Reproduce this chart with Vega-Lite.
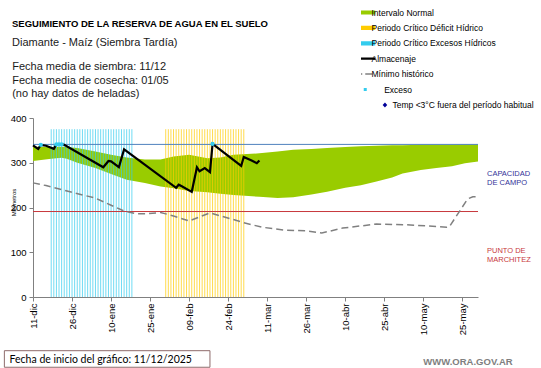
{
  "$schema": "https://vega.github.io/schema/vega-lite/v6.json",
  "width": 445,
  "height": 179,
  "autosize": {"type": "none"},
  "padding": {"left": 33, "top": 118, "right": 63, "bottom": 71},
  "background": "white",
  "config": {
    "view": {"stroke": null},
    "font": "Liberation Sans",
    "axis": {"labelFont": "Liberation Sans", "titleFont": "Liberation Sans"}
  },
  "title": {
    "text": "SEGUIMIENTO DE LA RESERVA DE AGUA  EN EL SUELO",
    "subtitle": "Diamante - Maíz  (Siembra Tardía)",
    "anchor": "start",
    "frame": "group",
    "orient": "top",
    "font": "Liberation Sans",
    "fontSize": 9.5,
    "fontWeight": "bold",
    "color": "#000000",
    "subtitleFont": "Liberation Sans",
    "subtitleFontSize": 11,
    "subtitleColor": "#1a1a1a",
    "subtitleLineHeight": 13,
    "subtitlePadding": 8,
    "offset": 14,
    "dx": -21,
    "dy": 54
  },
  "datasets": {
    "banda": [
      {"fecha": "2025-12-11", "superior": 336, "inferior": 304},
      {"fecha": "2025-12-18", "superior": 335, "inferior": 309},
      {"fecha": "2025-12-22", "superior": 336, "inferior": 311},
      {"fecha": "2025-12-24", "superior": 335, "inferior": 309},
      {"fecha": "2025-12-28", "superior": 333, "inferior": 300},
      {"fecha": "2026-01-04", "superior": 325, "inferior": 288},
      {"fecha": "2026-01-10", "superior": 318, "inferior": 275},
      {"fecha": "2026-01-16", "superior": 312, "inferior": 262},
      {"fecha": "2026-01-23", "superior": 307, "inferior": 255},
      {"fecha": "2026-01-29", "superior": 307, "inferior": 247},
      {"fecha": "2026-02-03", "superior": 314, "inferior": 243},
      {"fecha": "2026-02-09", "superior": 318, "inferior": 237},
      {"fecha": "2026-02-16", "superior": 310, "inferior": 234},
      {"fecha": "2026-02-21", "superior": 312, "inferior": 231},
      {"fecha": "2026-02-26", "superior": 318, "inferior": 228},
      {"fecha": "2026-03-08", "superior": 321, "inferior": 224},
      {"fecha": "2026-03-15", "superior": 325, "inferior": 221},
      {"fecha": "2026-03-21", "superior": 329, "inferior": 223},
      {"fecha": "2026-03-28", "superior": 331, "inferior": 229},
      {"fecha": "2026-04-03", "superior": 333, "inferior": 235},
      {"fecha": "2026-04-10", "superior": 335, "inferior": 244},
      {"fecha": "2026-04-16", "superior": 337, "inferior": 250},
      {"fecha": "2026-04-22", "superior": 338, "inferior": 258},
      {"fecha": "2026-04-28", "superior": 339, "inferior": 267},
      {"fecha": "2026-05-02", "superior": 339, "inferior": 276},
      {"fecha": "2026-05-09", "superior": 340, "inferior": 284},
      {"fecha": "2026-05-15", "superior": 340, "inferior": 288},
      {"fecha": "2026-05-21", "superior": 340, "inferior": 292},
      {"fecha": "2026-05-26", "superior": 341, "inferior": 299},
      {"fecha": "2026-05-31", "superior": 341, "inferior": 303}
    ],
    "periodos": [
      {"fecha": "2025-12-18", "periodo": "Periodo Crítico Excesos Hídricos"},
      {"fecha": "2025-12-19", "periodo": "Periodo Crítico Excesos Hídricos"},
      {"fecha": "2025-12-20", "periodo": "Periodo Crítico Excesos Hídricos"},
      {"fecha": "2025-12-21", "periodo": "Periodo Crítico Excesos Hídricos"},
      {"fecha": "2025-12-22", "periodo": "Periodo Crítico Excesos Hídricos"},
      {"fecha": "2025-12-23", "periodo": "Periodo Crítico Excesos Hídricos"},
      {"fecha": "2025-12-24", "periodo": "Periodo Crítico Excesos Hídricos"},
      {"fecha": "2025-12-25", "periodo": "Periodo Crítico Excesos Hídricos"},
      {"fecha": "2025-12-26", "periodo": "Periodo Crítico Excesos Hídricos"},
      {"fecha": "2025-12-27", "periodo": "Periodo Crítico Excesos Hídricos"},
      {"fecha": "2025-12-28", "periodo": "Periodo Crítico Excesos Hídricos"},
      {"fecha": "2025-12-29", "periodo": "Periodo Crítico Excesos Hídricos"},
      {"fecha": "2025-12-30", "periodo": "Periodo Crítico Excesos Hídricos"},
      {"fecha": "2025-12-31", "periodo": "Periodo Crítico Excesos Hídricos"},
      {"fecha": "2026-01-01", "periodo": "Periodo Crítico Excesos Hídricos"},
      {"fecha": "2026-01-02", "periodo": "Periodo Crítico Excesos Hídricos"},
      {"fecha": "2026-01-03", "periodo": "Periodo Crítico Excesos Hídricos"},
      {"fecha": "2026-01-04", "periodo": "Periodo Crítico Excesos Hídricos"},
      {"fecha": "2026-01-05", "periodo": "Periodo Crítico Excesos Hídricos"},
      {"fecha": "2026-01-06", "periodo": "Periodo Crítico Excesos Hídricos"},
      {"fecha": "2026-01-07", "periodo": "Periodo Crítico Excesos Hídricos"},
      {"fecha": "2026-01-08", "periodo": "Periodo Crítico Excesos Hídricos"},
      {"fecha": "2026-01-09", "periodo": "Periodo Crítico Excesos Hídricos"},
      {"fecha": "2026-01-10", "periodo": "Periodo Crítico Excesos Hídricos"},
      {"fecha": "2026-01-11", "periodo": "Periodo Crítico Excesos Hídricos"},
      {"fecha": "2026-01-12", "periodo": "Periodo Crítico Excesos Hídricos"},
      {"fecha": "2026-01-13", "periodo": "Periodo Crítico Excesos Hídricos"},
      {"fecha": "2026-01-14", "periodo": "Periodo Crítico Excesos Hídricos"},
      {"fecha": "2026-01-15", "periodo": "Periodo Crítico Excesos Hídricos"},
      {"fecha": "2026-01-16", "periodo": "Periodo Crítico Excesos Hídricos"},
      {"fecha": "2026-01-17", "periodo": "Periodo Crítico Excesos Hídricos"},
      {"fecha": "2026-01-18", "periodo": "Periodo Crítico Excesos Hídricos"},
      {"fecha": "2026-01-31", "periodo": "Periodo Crítico Déficit Hídrico"},
      {"fecha": "2026-02-01", "periodo": "Periodo Crítico Déficit Hídrico"},
      {"fecha": "2026-02-02", "periodo": "Periodo Crítico Déficit Hídrico"},
      {"fecha": "2026-02-03", "periodo": "Periodo Crítico Déficit Hídrico"},
      {"fecha": "2026-02-04", "periodo": "Periodo Crítico Déficit Hídrico"},
      {"fecha": "2026-02-05", "periodo": "Periodo Crítico Déficit Hídrico"},
      {"fecha": "2026-02-06", "periodo": "Periodo Crítico Déficit Hídrico"},
      {"fecha": "2026-02-07", "periodo": "Periodo Crítico Déficit Hídrico"},
      {"fecha": "2026-02-08", "periodo": "Periodo Crítico Déficit Hídrico"},
      {"fecha": "2026-02-09", "periodo": "Periodo Crítico Déficit Hídrico"},
      {"fecha": "2026-02-10", "periodo": "Periodo Crítico Déficit Hídrico"},
      {"fecha": "2026-02-11", "periodo": "Periodo Crítico Déficit Hídrico"},
      {"fecha": "2026-02-12", "periodo": "Periodo Crítico Déficit Hídrico"},
      {"fecha": "2026-02-13", "periodo": "Periodo Crítico Déficit Hídrico"},
      {"fecha": "2026-02-14", "periodo": "Periodo Crítico Déficit Hídrico"},
      {"fecha": "2026-02-15", "periodo": "Periodo Crítico Déficit Hídrico"},
      {"fecha": "2026-02-16", "periodo": "Periodo Crítico Déficit Hídrico"},
      {"fecha": "2026-02-17", "periodo": "Periodo Crítico Déficit Hídrico"},
      {"fecha": "2026-02-18", "periodo": "Periodo Crítico Déficit Hídrico"},
      {"fecha": "2026-02-19", "periodo": "Periodo Crítico Déficit Hídrico"},
      {"fecha": "2026-02-20", "periodo": "Periodo Crítico Déficit Hídrico"},
      {"fecha": "2026-02-21", "periodo": "Periodo Crítico Déficit Hídrico"},
      {"fecha": "2026-02-22", "periodo": "Periodo Crítico Déficit Hídrico"},
      {"fecha": "2026-02-23", "periodo": "Periodo Crítico Déficit Hídrico"},
      {"fecha": "2026-02-24", "periodo": "Periodo Crítico Déficit Hídrico"},
      {"fecha": "2026-02-25", "periodo": "Periodo Crítico Déficit Hídrico"},
      {"fecha": "2026-02-26", "periodo": "Periodo Crítico Déficit Hídrico"},
      {"fecha": "2026-02-27", "periodo": "Periodo Crítico Déficit Hídrico"},
      {"fecha": "2026-02-28", "periodo": "Periodo Crítico Déficit Hídrico"},
      {"fecha": "2026-03-01", "periodo": "Periodo Crítico Déficit Hídrico"},
      {"fecha": "2026-03-02", "periodo": "Periodo Crítico Déficit Hídrico"}
    ],
    "umbrales": [
      {"umbral": "Capacidad de campo", "mm": 341},
      {"umbral": "Punto de marchitez", "mm": 191}
    ],
    "minimo": [
      {"fecha": "2025-12-11", "mm": 255},
      {"fecha": "2025-12-16", "mm": 249},
      {"fecha": "2025-12-22", "mm": 240},
      {"fecha": "2025-12-26", "mm": 234},
      {"fecha": "2026-01-04", "mm": 221},
      {"fecha": "2026-01-10", "mm": 205},
      {"fecha": "2026-01-15", "mm": 192},
      {"fecha": "2026-01-20", "mm": 186},
      {"fecha": "2026-01-24", "mm": 186},
      {"fecha": "2026-01-29", "mm": 189},
      {"fecha": "2026-02-03", "mm": 181},
      {"fecha": "2026-02-09", "mm": 170},
      {"fecha": "2026-02-13", "mm": 179},
      {"fecha": "2026-02-17", "mm": 188},
      {"fecha": "2026-02-26", "mm": 173},
      {"fecha": "2026-03-02", "mm": 166},
      {"fecha": "2026-03-09", "mm": 156},
      {"fecha": "2026-03-18", "mm": 149},
      {"fecha": "2026-03-26", "mm": 148},
      {"fecha": "2026-04-01", "mm": 143},
      {"fecha": "2026-04-09", "mm": 154},
      {"fecha": "2026-04-22", "mm": 163},
      {"fecha": "2026-05-05", "mm": 161},
      {"fecha": "2026-05-19", "mm": 156},
      {"fecha": "2026-05-20", "mm": 157},
      {"fecha": "2026-05-27", "mm": 219},
      {"fecha": "2026-05-29", "mm": 224},
      {"fecha": "2026-05-31", "mm": 224}
    ],
    "almacenaje": [
      {"fecha": "2025-12-11", "mm": 339},
      {"fecha": "2025-12-13", "mm": 331},
      {"fecha": "2025-12-14", "mm": 340},
      {"fecha": "2025-12-16", "mm": 338},
      {"fecha": "2025-12-19", "mm": 331},
      {"fecha": "2025-12-20", "mm": 341},
      {"fecha": "2025-12-22", "mm": 341},
      {"fecha": "2025-12-23", "mm": 340},
      {"fecha": "2026-01-07", "mm": 290},
      {"fecha": "2026-01-09", "mm": 304},
      {"fecha": "2026-01-10", "mm": 303},
      {"fecha": "2026-01-13", "mm": 290},
      {"fecha": "2026-01-15", "mm": 330},
      {"fecha": "2026-02-04", "mm": 244},
      {"fecha": "2026-02-05", "mm": 251},
      {"fecha": "2026-02-06", "mm": 248},
      {"fecha": "2026-02-10", "mm": 235},
      {"fecha": "2026-02-12", "mm": 290},
      {"fecha": "2026-02-13", "mm": 281},
      {"fecha": "2026-02-15", "mm": 288},
      {"fecha": "2026-02-17", "mm": 279},
      {"fecha": "2026-02-18", "mm": 342},
      {"fecha": "2026-03-01", "mm": 293},
      {"fecha": "2026-03-02", "mm": 313},
      {"fecha": "2026-03-05", "mm": 305},
      {"fecha": "2026-03-07", "mm": 299},
      {"fecha": "2026-03-08", "mm": 305}
    ],
    "exceso": [
      {"fecha": "2025-12-14", "mm": 340},
      {"fecha": "2025-12-20", "mm": 341},
      {"fecha": "2025-12-21", "mm": 341},
      {"fecha": "2025-12-22", "mm": 341},
      {"fecha": "2026-02-18", "mm": 342}
    ]
  },
  "layer": [
    {
      "data": {"name": "banda"},
      "mark": {"type": "area", "color": "#99CC00", "opacity": 1},
      "encoding": {
        "x": {
          "field": "fecha", "type": "temporal",
          "scale": {"type": "utc", "domain": [{"year": 2025, "month": 12, "date": 11, "utc": true}, {"year": 2026, "month": 5, "date": 31, "utc": true}], "nice": false},
          "axis": {
            "title": null,
            "values": [
              {"year": 2025, "month": 12, "date": 11, "utc": true},
              {"year": 2025, "month": 12, "date": 26, "utc": true},
              {"year": 2026, "month": 1, "date": 10, "utc": true},
              {"year": 2026, "month": 1, "date": 25, "utc": true},
              {"year": 2026, "month": 2, "date": 9, "utc": true},
              {"year": 2026, "month": 2, "date": 24, "utc": true},
              {"year": 2026, "month": 3, "date": 11, "utc": true},
              {"year": 2026, "month": 3, "date": 26, "utc": true},
              {"year": 2026, "month": 4, "date": 10, "utc": true},
              {"year": 2026, "month": 4, "date": 25, "utc": true},
              {"year": 2026, "month": 5, "date": 10, "utc": true},
              {"year": 2026, "month": 5, "date": 25, "utc": true}
            ],
            "labelExpr": "utcFormat(datum.value, '%d') + '-' + ['ene','feb','mar','abr','may','jun','jul','ago','sep','oct','nov','dic'][utcmonth(datum.value)]",
            "labelAngle": 270,
            "labelAlign": "right",
            "labelBaseline": "middle",
            "labelFontSize": 9.5,
            "labelColor": "#000000",
            "labelPadding": 2,
            "grid": false,
            "tickSize": 4,
            "tickColor": "#808080",
            "domainColor": "#808080"
          }
        },
        "y": {
          "field": "superior", "type": "quantitative",
          "scale": {"domain": [0, 400], "nice": false},
          "axis": {
            "values": [0, 50, 100, 150, 200, 250, 300, 350, 400],
            "title": "Milímetros",
            "titleFontSize": 6,
            "titleFontWeight": "normal",
            "titleColor": "#000000",
            "titleAngle": 270,
            "titleAlign": "center",
            "titleBaseline": "middle",
            "titleX": -20,
            "titleY": 84,
            "labelFontSize": 9.5,
            "labelColor": "#000000",
            "labelPadding": 3,
            "grid": false,
            "tickSize": 4,
            "tickColor": "#808080",
            "domainColor": "#808080"
          }
        },
        "y2": {"field": "inferior"}
      }
    },
    {
      "data": {"name": "periodos"},
      "mark": {"type": "rule", "strokeWidth": 1, "opacity": 0.7},
      "encoding": {
        "x": {"field": "fecha", "type": "temporal"},
        "y": {"datum": 0, "type": "quantitative"},
        "y2": {"datum": 375},
        "color": {
          "field": "periodo", "type": "nominal",
          "scale": {
            "domain": ["Intervalo Normal", "Periodo Crítico Déficit Hídrico", "Periodo Crítico Excesos Hídricos", "Almacenaje", "Mínimo histórico", "Exceso", "Temp <3°C fuera del período habitual"],
            "range": ["#99CC00", "#FFCC00", "#33CCEE", "#000000", "#808080", "#33CCEE", "#000099"]
          },
          "legend": {
            "title": null,
            "orient": "none",
            "legendX": 328,
            "legendY": -110.5,
            "direction": "vertical",
            "symbolSize": 400,
            "clipHeight": 10,
            "rowPadding": 5.4,
            "labelOffset": 2,
            "symbolOffset": 0,
            "padding": 0,
            "labelFont": "Liberation Sans",
            "labelFontSize": 8.5,
            "labelColor": "#000000",
            "labelLimit": 300,
            "symbolOpacity": 1,
            "encode": {
              "symbols": {
                "update": {
                  "shape": {"signal": "datum.value == 'Almacenaje' || datum.value == 'Mínimo histórico' ? 'M-1,0H1' : datum.value == 'Exceso' ? 'M-0.15,-0.15H0.15V0.15H-0.15Z' : datum.value == 'Temp <3°C fuera del período habitual' ? 'M1.97,-0.25L2.2,0L1.97,0.25L1.74,0Z' : 'M-1,-0.21H1V0.21H-1Z'"},
                  "fill": {"signal": "datum.value == 'Almacenaje' || datum.value == 'Mínimo histórico' ? 'transparent' : scale('color', datum.value)"},
                  "stroke": {"signal": "datum.value == 'Almacenaje' ? '#000000' : datum.value == 'Mínimo histórico' ? '#808080' : 'transparent'"},
                  "strokeWidth": {"signal": "datum.value == 'Almacenaje' ? 2.2 : datum.value == 'Mínimo histórico' ? 1.5 : 0"},
                  "strokeDash": {"signal": "datum.value == 'Mínimo histórico' ? [7, 3] : [1, 0]"},
                  "opacity": {"value": 1},
                  "size": {"value": 400}
                }
              },
              "labels": {
                "update": {
                  "dx": {"signal": "datum.value == 'Exceso' ? 12.7 : datum.value == 'Temp <3°C fuera del período habitual' ? 21 : 0"}
                }
              }
            }
          }
        }
      }
    },
    {
      "data": {"name": "umbrales"},
      "transform": [{"filter": "datum.umbral == 'Capacidad de campo'"}],
      "mark": {"type": "rule", "strokeWidth": 1, "color": "#4F81BD"},
      "encoding": {
        "y": {"field": "mm", "type": "quantitative"}
      }
    },
    {
      "data": {"name": "umbrales"},
      "transform": [{"filter": "datum.umbral == 'Punto de marchitez'"}],
      "mark": {"type": "rule", "strokeWidth": 1, "color": "#C8383C"},
      "encoding": {
        "y": {"field": "mm", "type": "quantitative"}
      }
    },
    {
      "data": {"name": "minimo"},
      "mark": {"type": "line", "color": "#808080", "strokeWidth": 1.5, "strokeDash": [7, 4]},
      "encoding": {
        "x": {"field": "fecha", "type": "temporal"},
        "y": {"field": "mm", "type": "quantitative"}
      }
    },
    {
      "data": {"name": "almacenaje"},
      "mark": {"type": "line", "color": "#000000", "strokeWidth": 2.2},
      "encoding": {
        "x": {"field": "fecha", "type": "temporal"},
        "y": {"field": "mm", "type": "quantitative"}
      }
    },
    {
      "data": {"name": "exceso"},
      "mark": {"type": "circle", "color": "#33CCEE", "size": 18, "opacity": 1},
      "encoding": {
        "x": {"field": "fecha", "type": "temporal"},
        "y": {"field": "mm", "type": "quantitative"}
      }
    },
    {
      "data": {"values": [{"texto": "Fecha media de siembra: 11/12\nFecha media de cosecha: 01/05\n(no hay  datos de heladas)"}]},
      "mark": {"type": "text", "align": "left", "baseline": "middle", "fontSize": 11, "lineHeight": 13.5, "lineBreak": "\n", "color": "#1a1a1a"},
      "encoding": {
        "x": {"datum": {"year": 2025, "month": 12, "date": 3, "utc": true}, "type": "temporal"},
        "y": {"datum": 513.5, "type": "quantitative"},
        "text": {"field": "texto"}
      }
    },
    {
      "data": {"values": [{"texto": "CAPACIDAD\nDE  CAMPO"}]},
      "mark": {"type": "text", "align": "left", "baseline": "middle", "fontSize": 7.5, "lineHeight": 9, "lineBreak": "\n", "color": "#333399", "dx": 9},
      "encoding": {
        "x": {"datum": {"year": 2026, "month": 5, "date": 31, "utc": true}, "type": "temporal"},
        "y": {"datum": 274, "type": "quantitative"},
        "text": {"field": "texto"}
      }
    },
    {
      "data": {"values": [{"texto": "PUNTO  DE\nMARCHITEZ"}]},
      "mark": {"type": "text", "align": "left", "baseline": "middle", "fontSize": 7.5, "lineHeight": 9, "lineBreak": "\n", "color": "#C8383C", "dx": 9},
      "encoding": {
        "x": {"datum": {"year": 2026, "month": 5, "date": 31, "utc": true}, "type": "temporal"},
        "y": {"datum": 103, "type": "quantitative"},
        "text": {"field": "texto"}
      }
    },
    {
      "data": {"values": [{"texto": "Fecha de inicio del gráfico:  11/12/2025"}]},
      "layer": [
        {
          "mark": {"type": "rect", "fill": "transparent", "stroke": "#8E6B6B", "strokeWidth": 1},
          "encoding": {
            "x": {"datum": {"year": 2025, "month": 11, "date": 30, "utc": true}, "type": "temporal"},
            "x2": {"datum": {"year": 2026, "month": 2, "date": 17, "utc": true}},
            "y": {"datum": -120, "type": "quantitative"},
            "y2": {"datum": -157}
          }
        },
        {
          "mark": {"type": "text", "align": "left", "baseline": "middle", "font": "Lato", "fontSize": 10.5, "color": "#000000"},
          "encoding": {
            "x": {"datum": {"year": 2025, "month": 12, "date": 2, "utc": true}, "type": "temporal"},
            "y": {"datum": -141, "type": "quantitative"},
            "text": {"field": "texto"}
          }
        }
      ]
    },
    {
      "data": {"values": [{"texto": "WWW.ORA.GOV.AR"}]},
      "mark": {"type": "text", "align": "left", "baseline": "middle", "fontSize": 9.5, "fontWeight": "bold", "color": "#808080"},
      "encoding": {
        "x": {"datum": {"year": 2026, "month": 5, "date": 10, "utc": true}, "type": "temporal"},
        "y": {"datum": -145, "type": "quantitative"},
        "text": {"field": "texto"}
      }
    }
  ]
}
